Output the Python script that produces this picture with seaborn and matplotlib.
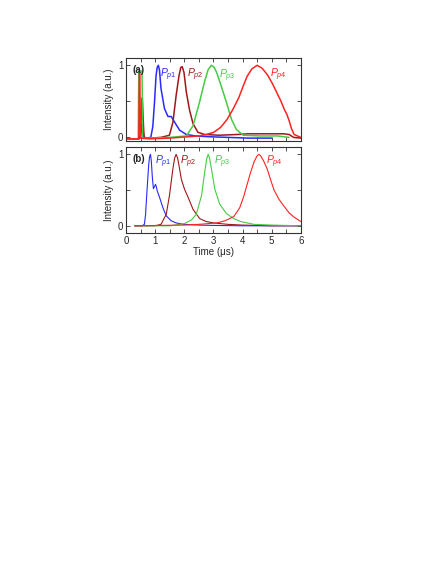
import matplotlib
matplotlib.use("Agg")
import matplotlib.pyplot as plt
import seaborn as sns
import pandas as pd
from matplotlib.ticker import MultipleLocator, FixedLocator

# ---------------- data: panel (a) measured ----------------
blue_a_t = [0.0, 0.4, 0.5, 0.53, 0.56, 0.59, 0.62, 0.7, 0.85, 0.92, 0.98, 1.03, 1.07, 1.11, 1.15,
            1.2, 1.32, 1.44, 1.55, 1.67, 1.84, 2.07, 2.4, 2.8, 3.5, 4.2, 5.0]
blue_a_y = [-0.02, -0.02, 0.0, 0.12, 0.19, 0.08, 0.0, -0.01, 0.0, 0.15, 0.5, 0.85, 0.97, 1.0, 0.93,
            0.68, 0.4, 0.29, 0.29, 0.21, 0.1, 0.04, 0.02, 0.01, 0.0, -0.01, -0.01]

dred_a_t = [0.0, 0.45, 0.5, 0.53, 0.56, 0.59, 0.62, 0.8, 1.2, 1.49, 1.61, 1.72, 1.82, 1.88, 1.93,
            1.99, 2.07, 2.18, 2.3, 2.47, 2.7, 3.2, 3.8, 4.2, 4.8, 5.4, 5.6, 5.75, 6.0]
dred_a_y = [-0.02, -0.02, 0.05, 0.35, 0.55, 0.25, 0.0, -0.01, 0.0, 0.03, 0.21, 0.58, 0.86, 0.97, 0.98,
            0.9, 0.63, 0.38, 0.19, 0.07, 0.04, 0.03, 0.04, 0.05, 0.05, 0.05, 0.04, 0.0, -0.01]

green_a_t = [0.0, 0.42, 0.43, 0.44, 0.55, 0.56, 0.57, 0.8, 1.5, 2.07, 2.3, 2.53, 2.7, 2.82, 2.93, 3.03,
             3.12, 3.27, 3.45, 3.62, 3.79, 4.02, 4.6, 5.2, 5.6]
green_a_y = [-0.02, -0.02, 0.5, 0.92, 0.92, 0.5, -0.01, -0.01, 0.0, 0.02, 0.16, 0.5, 0.78, 0.94, 1.0, 0.97,
             0.89, 0.71, 0.48, 0.25, 0.11, 0.03, 0.02, 0.02, 0.0]

red_a_t = [0.0, 0.44, 0.46, 0.47, 0.49, 0.5, 0.8, 1.5, 2.5, 2.75, 3.01, 3.25, 3.47, 3.67, 3.87,
           4.02, 4.16, 4.32, 4.5, 4.67, 4.85, 5.02, 5.2, 5.32, 5.43, 5.52, 5.6, 5.68, 5.77, 6.0]
red_a_y = [-0.02, -0.02, 0.89, 0.89, 0.3, -0.01, -0.02, -0.01, 0.02, 0.04, 0.07, 0.14, 0.25, 0.39, 0.55,
           0.71, 0.85, 0.95, 1.0, 0.96, 0.87, 0.75, 0.6, 0.5, 0.39, 0.32, 0.23, 0.12, 0.04, 0.0]

# ---------------- data: panel (b) simulated ----------------
blue_b_t = [0.3, 0.55, 0.63, 0.67, 0.71, 0.75, 0.78, 0.81, 0.84, 0.87, 0.9, 0.94, 0.98, 1.01, 1.04, 1.07,
            1.15, 1.26, 1.38, 1.55, 1.72, 2.0, 2.5, 3.0, 4.0, 6.0]
blue_b_y = [0.0, 0.0, 0.02, 0.15, 0.42, 0.68, 0.86, 0.97, 1.0, 0.9, 0.7, 0.52, 0.55, 0.58, 0.55, 0.49,
            0.4, 0.26, 0.14, 0.07, 0.04, 0.02, 0.01, 0.005, 0.0, 0.0]

dred_b_t = [0.3, 1.0, 1.2, 1.38, 1.49, 1.61, 1.67, 1.72, 1.77, 1.82, 1.9, 2.01, 2.13, 2.3, 2.53,
            2.75, 3.0, 3.5, 4.0, 5.0, 6.0]
dred_b_y = [0.0, 0.0, 0.02, 0.16, 0.42, 0.8, 0.95, 1.0, 0.95, 0.84, 0.65, 0.51, 0.4, 0.23, 0.1,
            0.06, 0.04, 0.02, 0.01, 0.0, 0.0]

green_b_t = [0.3, 1.5, 2.0, 2.24, 2.41, 2.59, 2.7, 2.77, 2.82, 2.87, 2.93, 3.05, 3.22, 3.45,
             3.7, 3.93, 4.39, 5.0, 6.0]
green_b_y = [0.0, 0.0, 0.03, 0.08, 0.16, 0.42, 0.75, 0.94, 1.0, 0.94, 0.8, 0.51, 0.3, 0.17,
             0.1, 0.06, 0.02, 0.01, 0.0]

red_b_t = [0.3, 2.0, 2.5, 3.12, 3.4, 3.7, 3.9, 4.04, 4.15, 4.27, 4.4, 4.5, 4.56, 4.62, 4.72,
           4.85, 4.95, 5.08, 5.25, 5.43, 5.6, 5.77, 6.0]
red_b_y = [0.0, 0.01, 0.02, 0.04, 0.07, 0.13, 0.25, 0.41, 0.57, 0.74, 0.9, 0.98, 1.0, 0.98, 0.91,
           0.79, 0.66, 0.5, 0.37, 0.27, 0.18, 0.12, 0.06]

labels = [r"$P_{p1}$", r"$P_{p2}$", r"$P_{p3}$", r"$P_{p4}$"]
lab_a_pos = [(1.17, 0.87), (2.1, 0.87), (3.2, 0.85), (4.93, 0.87)]
lab_b_pos = [(0.98, 0.89), (1.86, 0.89), (3.03, 0.89), (4.81, 0.89)]

colors = ["#2a2aff", "#a01818", "#44cc44", "#ff2222"]

# ---------------- figure ----------------
sns.set_theme(style="ticks")
plt.rcParams["font.family"] = ["Liberation Sans", "DejaVu Sans"]
plt.rcParams["mathtext.fontset"] = "custom"
plt.rcParams["mathtext.it"] = "Liberation Sans:italic"
plt.rcParams["mathtext.rm"] = "Liberation Sans"

fig = plt.figure(figsize=(4.36, 5.64), dpi=100)
ax_a = fig.add_axes([0.289, 0.750, 0.401, 0.147])
ax_b = fig.add_axes([0.289, 0.587, 0.401, 0.152])

series_a = [(blue_a_t, blue_a_y), (dred_a_t, dred_a_y), (green_a_t, green_a_y), (red_a_t, red_a_y)]
series_b = [(blue_b_t, blue_b_y), (dred_b_t, dred_b_y), (green_b_t, green_b_y), (red_b_t, red_b_y)]

for (t, y), c in zip(series_a, colors):
    df = pd.DataFrame({"t": t, "y": y})
    sns.lineplot(data=df, x="t", y="y", ax=ax_a, color=c, lw=1.1, sort=False, estimator=None)
for (t, y), c in zip(series_b, colors):
    df = pd.DataFrame({"t": t, "y": y})
    sns.lineplot(data=df, x="t", y="y", ax=ax_b, color=c, lw=0.8, sort=False, estimator=None)

for ax, pos, tag, ylim in [(ax_a, lab_a_pos, "(a)", (-0.05, 1.1)), (ax_b, lab_b_pos, "(b)", (-0.1, 1.1))]:
    ax.set_xlim(0, 6)
    ax.set_ylim(*ylim)
    ax.yaxis.set_major_locator(FixedLocator([0, 1]))
    ax.yaxis.set_minor_locator(FixedLocator([0.5]))
    ax.set_yticklabels(["0", "1"])
    ax.xaxis.set_major_locator(MultipleLocator(1))
    ax.xaxis.set_minor_locator(MultipleLocator(0.5))
    ax.tick_params(which="both", direction="in", top=True, right=True, labelsize=7,
                   width=0.6, color="#333333", pad=2, length=3)
    for s in ax.spines.values():
        s.set_linewidth(0.8)
        s.set_color("#333333")
    ax.set_ylabel("Intensity (a.u.)", fontsize=7, labelpad=3)
    for (px, py), lab, c in zip(pos, labels, colors):
        ax.text(px, py, lab, color=c, fontsize=7.5, ha="left", va="center")
    ax.text(0.04, 0.86, tag, transform=ax.transAxes, fontsize=7, fontweight="bold",
            ha="left", va="center")

ax_a.set_xlabel("")
ax_a.tick_params(labelbottom=False)
ax_b.set_xlabel("Time (\u03bcs)", fontsize=7, labelpad=1)

fig.savefig("out.png", dpi=100)
